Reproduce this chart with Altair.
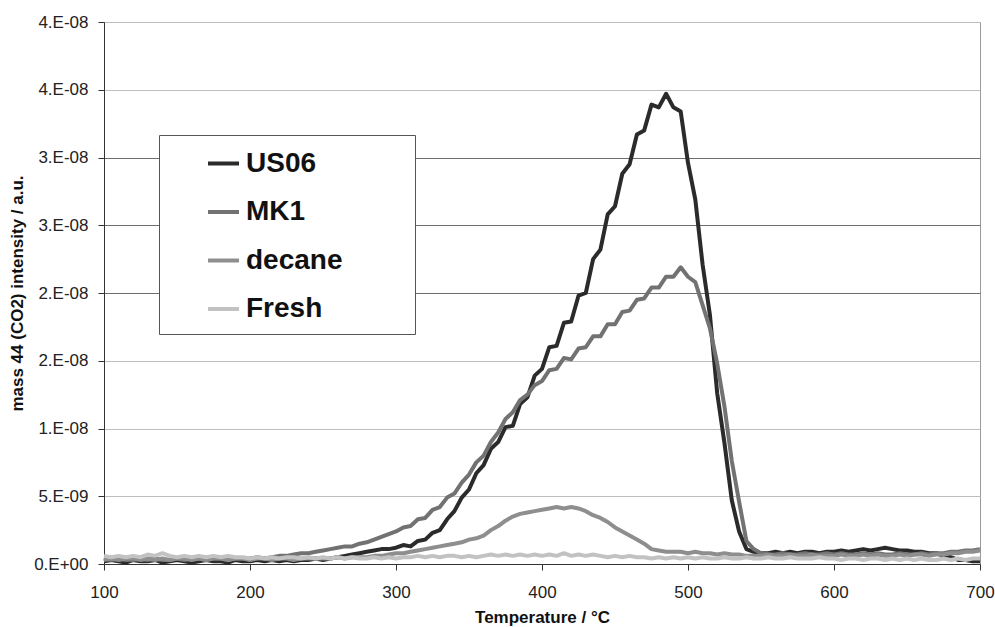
import altair as alt
import pandas as pd

# Temperature grid (°C), sampled every 5 °C from 100 to 700
temperature = list(range(100, 705, 5))

series_names = ["US06", "MK1", "decane", "Fresh"]
series_colors = ["#2b2b2b", "#727272", "#8e8e8e", "#c2c2c2"]

# CO2 (mass 44) intensity, in units of 1e-9 a.u.
us06 = [
    0.2, 0.3, 0.2, 0.1, 0.3, 0.2, 0.2, 0.3, 0.1, 0.2,
    0.3, 0.2, 0.1, 0.2, 0.3, 0.2, 0.2, 0.1, 0.3, 0.2,
    0.2, 0.3, 0.2, 0.3, 0.2, 0.3, 0.2, 0.3, 0.3, 0.4,
    0.3, 0.4, 0.5, 0.6, 0.7, 0.8, 0.9, 1.0, 1.1, 1.1,
    1.2, 1.4, 1.3, 1.7, 1.8, 2.3, 2.5, 3.3, 3.9, 4.9,
    5.5, 6.7, 7.3, 8.5, 9.0, 10.1, 10.2, 11.8, 12.3, 13.9,
    14.4, 16.0, 16.1, 17.8, 17.9, 19.8, 20.0, 22.5, 23.2, 25.8,
    26.4, 28.8, 29.5, 31.7, 32.0, 33.9, 33.7, 34.7, 33.7, 33.4,
    29.6, 26.9, 22.1, 18.4, 12.6, 8.9, 4.7, 2.4, 1.1, 0.9,
    0.8, 0.8, 0.9, 0.8, 0.9, 0.8, 0.9, 0.9, 0.8, 0.9,
    0.9, 1.0, 0.9, 1.0, 1.1, 1.0, 1.1, 1.2, 1.1, 1.0,
    1.0, 0.9, 0.9, 0.8, 0.8, 0.6, 0.5, 0.3, 0.3, 0.2,
    0.2,
]
mk1 = [
    0.4, 0.3, 0.4, 0.3, 0.3, 0.4, 0.3, 0.4, 0.3, 0.3,
    0.4, 0.3, 0.4, 0.4, 0.3, 0.4, 0.4, 0.3, 0.4, 0.4,
    0.4, 0.5, 0.4, 0.5, 0.6, 0.6, 0.7, 0.8, 0.8, 0.9,
    1.0, 1.1, 1.2, 1.3, 1.3, 1.5, 1.6, 1.8, 2.0, 2.2,
    2.4, 2.7, 2.8, 3.3, 3.4, 4.0, 4.2, 4.9, 5.2, 6.0,
    6.6, 7.5, 8.0, 9.0, 9.7, 10.7, 11.2, 12.1, 12.5, 13.2,
    13.5, 14.3, 14.4, 15.2, 15.1, 15.9, 16.0, 16.8, 16.8, 17.7,
    17.7, 18.6, 18.7, 19.5, 19.6, 20.4, 20.4, 21.2, 21.2, 21.9,
    21.2, 20.8, 19.1, 17.4, 14.8, 11.6, 7.6, 4.6, 1.7, 1.1,
    0.8, 0.7, 0.7, 0.8, 0.7, 0.7, 0.8, 0.7, 0.7, 0.8,
    0.7, 0.8, 0.7, 0.7, 0.8, 0.7, 0.8, 0.7, 0.7, 0.8,
    0.7, 0.7, 0.8, 0.7, 0.8, 0.8, 0.9, 0.9, 1.0, 1.0,
    1.1,
]
decane = [
    0.3, 0.4, 0.3, 0.4, 0.4, 0.3, 0.4, 0.3, 0.4, 0.3,
    0.4, 0.4, 0.3, 0.4, 0.3, 0.4, 0.4, 0.3, 0.4, 0.4,
    0.3, 0.4, 0.4, 0.3, 0.4, 0.4, 0.3, 0.4, 0.4, 0.4,
    0.4, 0.4, 0.5, 0.4, 0.5, 0.5, 0.5, 0.6, 0.6, 0.7,
    0.8, 0.8, 0.9, 1.0, 1.1, 1.2, 1.3, 1.4, 1.5, 1.6,
    1.8, 1.9, 2.1, 2.5, 2.8, 3.2, 3.5, 3.7, 3.8, 3.9,
    4.0, 4.1, 4.2, 4.1, 4.2, 4.1, 3.9, 3.6, 3.4, 3.1,
    2.7, 2.4, 2.1, 1.8, 1.5, 1.1, 1.0, 0.9, 0.9, 0.9,
    0.8, 0.9, 0.8, 0.8, 0.7, 0.8, 0.7, 0.7, 0.6, 0.6,
    0.6, 0.7, 0.6, 0.6, 0.7, 0.6, 0.6, 0.7, 0.6, 0.6,
    0.6, 0.7, 0.6, 0.6, 0.7, 0.6, 0.7, 0.6, 0.6, 0.7,
    0.6, 0.7, 0.7, 0.6, 0.7, 0.7, 0.8, 0.8, 0.9, 0.9,
    1.0,
]
fresh = [
    0.6, 0.5, 0.6, 0.5, 0.6, 0.5, 0.7, 0.6, 0.8, 0.6,
    0.5, 0.6, 0.5, 0.6, 0.5, 0.6, 0.5, 0.6, 0.5, 0.5,
    0.4, 0.5, 0.4, 0.5, 0.4, 0.5, 0.5, 0.4, 0.5, 0.4,
    0.5, 0.4, 0.5, 0.4, 0.5, 0.4, 0.4, 0.5, 0.4, 0.5,
    0.4, 0.5, 0.5, 0.6, 0.5, 0.6, 0.5, 0.6, 0.6, 0.5,
    0.6, 0.5, 0.6, 0.7, 0.6, 0.7, 0.6, 0.7, 0.6, 0.7,
    0.6, 0.7, 0.6, 0.8, 0.6, 0.7, 0.6, 0.7, 0.6, 0.5,
    0.6, 0.5, 0.6, 0.5, 0.5, 0.4, 0.5, 0.4, 0.5, 0.4,
    0.5, 0.4, 0.5, 0.4, 0.4, 0.5, 0.4, 0.4, 0.5, 0.4,
    0.4, 0.5, 0.4, 0.4, 0.5, 0.4, 0.4, 0.4, 0.5, 0.4,
    0.4, 0.3, 0.4, 0.4, 0.3, 0.4, 0.4, 0.3, 0.4, 0.3,
    0.4, 0.3, 0.4, 0.3, 0.3, 0.4, 0.3, 0.4, 0.3, 0.4,
    0.4,
]

x_ticks = [100, 200, 300, 400, 500, 600, 700]
y_ticks = [0, 5, 10, 15, 20, 25, 30, 35, 40]

rows = []
for name, vals in zip(series_names, [us06, mk1, decane, fresh]):
    for t, v in zip(temperature, vals):
        rows.append({"series": name, "T": t, "v": v})
df = pd.DataFrame(rows)

FONT = "Liberation Sans"

y_label_expr = (
    "datum.value == 0 ? '0.E+00' : (datum.value < 10 ? format(datum.value, '.0f') + '.E-09' "
    ": format(round(datum.value / 10), '.0f') + '.E-08')"
)

chart = (
    alt.Chart(df)
    .mark_line(strokeWidth=4, strokeJoin="round")
    .encode(
        x=alt.X(
            "T:Q",
            scale=alt.Scale(domain=[100, 700], nice=False, zero=False),
            axis=alt.Axis(
                values=x_ticks,
                title="Temperature / °C",
                grid=False,
                domainColor="#333333",
                tickColor="#333333",
                tickSize=6,
                labelFlush=False,
                labelFont=FONT,
                labelFontSize=17,
                labelColor="#222222",
                labelPadding=14,
                titleFont=FONT,
                titleFontSize=17,
                titleFontWeight="bold",
                titleColor="#111111",
                titleBaseline="alphabetic",
                titleY=58,
            ),
        ),
        y=alt.Y(
            "v:Q",
            scale=alt.Scale(domain=[0, 40], nice=False),
            axis=alt.Axis(
                values=y_ticks,
                labelExpr=y_label_expr,
                title="mass 44 (CO2) intensity / a.u.",
                grid=True,
                gridColor={
                    "condition": {"test": "datum.value >= 20 && datum.value <= 30", "value": "#6e6e6e"},
                    "value": "#bdbdbd",
                },
                gridWidth=1.2,
                domainColor="#333333",
                tickColor="#333333",
                tickSize=6,
                labelFont=FONT,
                labelFontSize=17,
                labelColor="#222222",
                labelPadding=10,
                titleFont=FONT,
                titleFontSize=17,
                titleFontWeight="bold",
                titleColor="#111111",
                titleAngle=270,
                titleAlign="center",
                titleBaseline="middle",
                titleX=-87,
                titleY=271,
            ),
        ),
        color=alt.Color(
            "series:N",
            sort=series_names,
            scale=alt.Scale(domain=series_names, range=series_colors),
            legend=alt.Legend(
                title=" ",
                titleOrient="right",
                titlePadding=62,
                titleFontSize=2,
                orient="none",
                legendX=55,
                legendY=113,
                direction="vertical",
                fillColor="white",
                strokeColor="#555555",
                padding=11,
                symbolOffset=36,
                symbolType="stroke",
                symbolSize=960,
                symbolStrokeWidth=4,
                labelFont=FONT,
                labelFontSize=28,
                labelFontWeight="bold",
                labelColor="#111111",
                labelOffset=5,
                rowPadding=16.5,
            ),
        ),
    )
    .properties(
        width=876,
        height=542,
        autosize=alt.AutoSizeParams(type="none"),
        padding={"left": 104, "top": 22, "right": 15, "bottom": 63},
        background="white",
    )
    .configure_view(stroke="#9a9a9a", strokeWidth=1)
)

chart.save("out.html", embed_options={"renderer": "svg", "actions": False})
